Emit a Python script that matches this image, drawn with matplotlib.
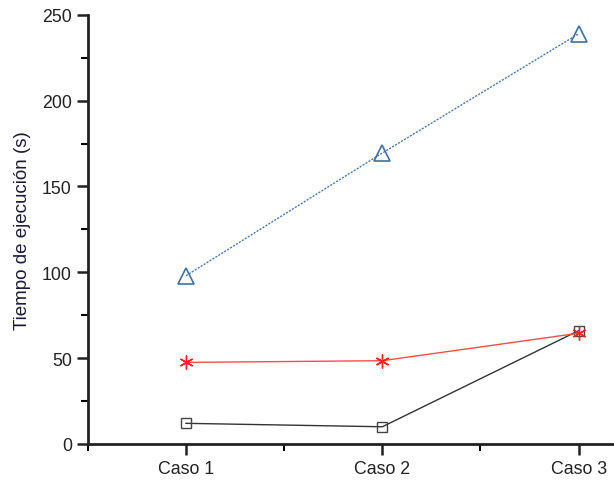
import matplotlib
matplotlib.use('Agg')
import matplotlib.pyplot as plt
from matplotlib.ticker import MultipleLocator

plt.rcParams['font.family'] = ['Liberation Sans', 'DejaVu Sans']

casos = ['Caso 1', 'Caso 2', 'Caso 3']
x = [1, 2, 3]
serie_azul = [98, 169.5, 239]
serie_roja = [47.5, 48.5, 64.5]
serie_negra = [12, 10, 66]

fig = plt.figure(figsize=(6.14, 4.81), dpi=100)
ax = fig.add_axes([0.143, 0.075, 0.857, 0.892])

# black first so the red asterisk sits on top at Caso 3
ax.plot(x, serie_negra, color='#333333', lw=1, marker='s',
        ms=6.5, mfc='none', mec='#444444', mew=1)
ax.plot(x, serie_roja, color='#ff4a4a', lw=1, marker=(6, 2, 0),
        ms=10, mec='#ff2020', mew=1)
ax.plot(x, serie_azul, color='#4a78b0', lw=1, ls=(0, (1.5, 1)), marker='^',
        ms=11, mfc='none', mec='#3f6fa8', mew=1.2)

ax.set_xlim(0.5, 3.18)
ax.set_ylim(0, 250)
ax.set_xticks(x)
ax.set_xticklabels(casos)
ax.xaxis.set_minor_locator(MultipleLocator(0.5))
ax.yaxis.set_major_locator(MultipleLocator(50))
ax.yaxis.set_minor_locator(MultipleLocator(25))
ax.tick_params(axis='both', which='major', length=8, width=1.8, direction='out',
               labelsize=12.8, colors='#222222')
ax.tick_params(axis='both', which='minor', length=5, width=1.5, direction='out')

for s in ['top', 'right']:
    ax.spines[s].set_visible(False)
for s in ['left', 'bottom']:
    ax.spines[s].set_linewidth(2)
    ax.spines[s].set_color('#222222')

ax.set_ylabel('Tiempo de ejecución (s)', fontsize=13.5, color='#1a1a3a', labelpad=8)

fig.savefig('out.png', dpi=100)
